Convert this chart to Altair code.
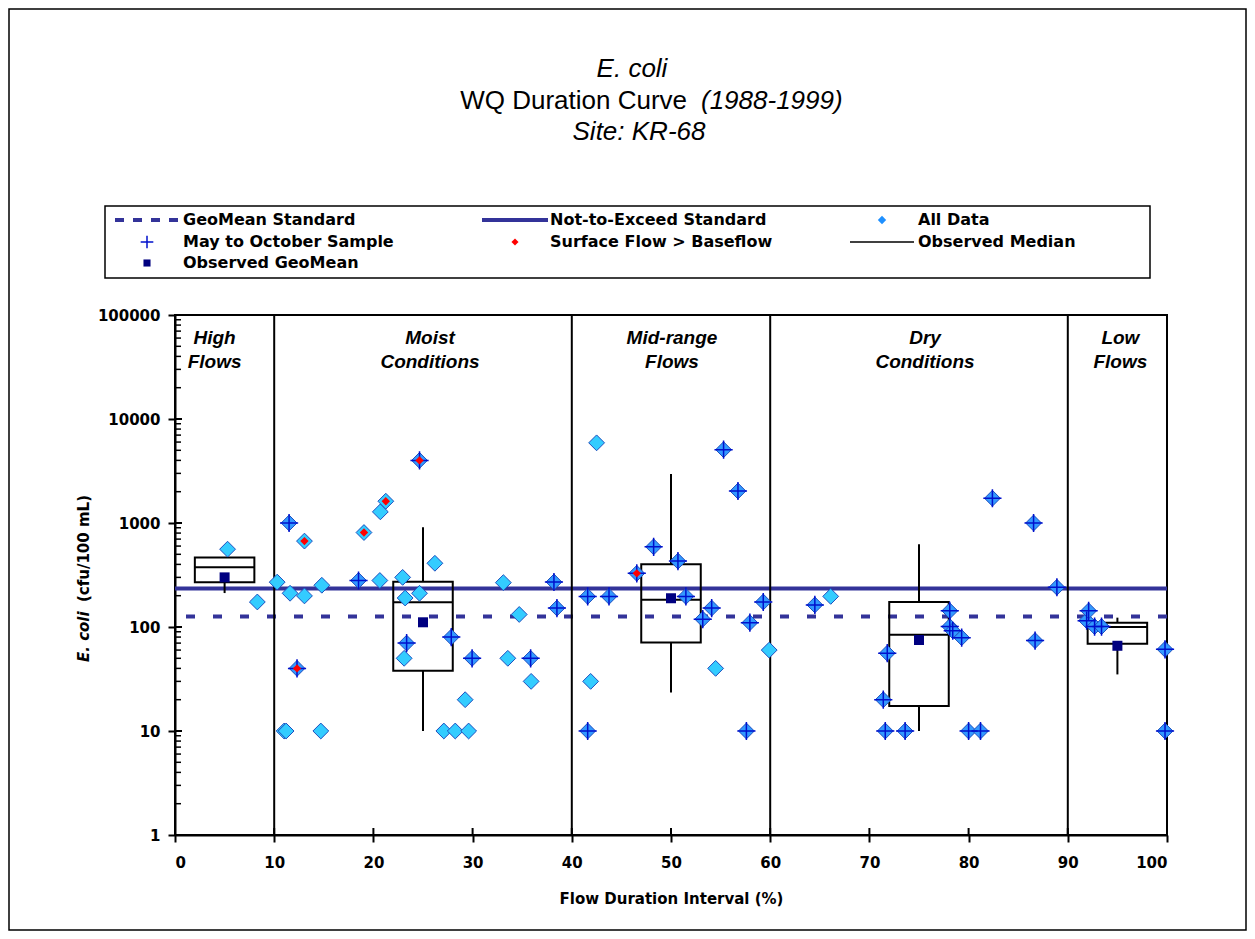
import altair as alt
import pandas as pd

# ---------------- data ----------------
pt_x = [5.3, 8.3, 10.3, 11.0, 11.2, 11.5, 11.6, 12.3, 13.05, 13.05, 14.7, 14.8, 18.5, 19.05,
        20.65, 20.7, 21.25, 22.95, 23.1, 23.2, 23.35, 24.65, 24.65, 26.2, 27.1, 27.85, 28.25,
        29.25, 29.6, 29.95, 33.1, 33.55, 34.7, 35.85, 35.9, 38.2, 38.5,
        41.6, 41.6, 41.9, 42.5, 43.75, 46.55, 48.25, 50.7, 51.5, 53.2, 54.1, 54.5, 55.3, 56.75,
        57.6, 57.95, 59.3, 59.9,
        64.5, 66.1, 71.4, 71.6, 71.8, 73.6, 78.1, 78.1, 78.4, 79.3, 80.0, 81.2, 82.4, 86.55,
        86.7, 88.9,
        91.9, 92.1, 92.7, 93.4, 99.8, 99.8]
pt_val = [560, 174, 270, 10, 10, 1000, 211, 40, 670, 199, 10, 252, 280, 810,
          280, 1280, 1620, 300, 50, 190, 70, 4000, 211, 410, 10, 80, 10,
          20, 10, 50, 267, 50, 132, 50, 30, 271, 152,
          197, 10, 30, 5900, 197, 328, 590, 430, 197, 119, 152, 40, 5070, 2030,
          10, 110, 174, 60,
          163, 197, 20, 10, 56, 10, 143, 101, 92, 79, 10, 10, 1730, 1000,
          74, 241,
          115, 143, 101, 101, 61, 10]
pt_mayoct = [0, 0, 0, 0, 0, 1, 0, 1, 0, 0, 0, 0, 1, 0,
             0, 0, 0, 0, 0, 0, 1, 1, 0, 0, 0, 1, 0,
             0, 0, 1, 0, 0, 0, 1, 0, 1, 1,
             1, 1, 0, 0, 1, 1, 1, 1, 1, 1, 1, 0, 1, 1,
             1, 1, 1, 0,
             1, 0, 1, 1, 1, 1, 1, 1, 1, 1, 1, 1, 1, 1,
             1, 1,
             1, 1, 1, 1, 1, 1]
pt_surface = [0, 0, 0, 0, 0, 0, 0, 1, 1, 0, 0, 0, 0, 1,
              0, 0, 1, 0, 0, 0, 0, 1, 0, 0, 0, 0, 0,
              0, 0, 0, 0, 0, 0, 0, 0, 0, 0,
              0, 0, 0, 0, 0, 1, 0, 0, 0, 0, 0, 0, 0, 0,
              0, 0, 0, 0,
              0, 0, 0, 0, 0, 0, 0, 0, 0, 0, 0, 0, 0, 0,
              0, 0,
              0, 0, 0, 0, 0, 0]

zone_bounds = [10, 40, 60, 90]
zone_mid = [5, 25, 50, 75, 95]
zone_line1 = ["High", "Moist", "Mid-range", "Dry", "Low"]
zone_line2 = ["Flows", "Conditions", "Flows", "Conditions", "Flows"]

box_center = [5, 25, 50, 75, 95]
box_min = [212, 10, 23.4, 10, 35]
box_q1 = [269, 38, 71, 17.4, 69]
box_med = [375, 173, 183, 84, 100]
box_q3 = [466, 273, 401, 174, 110]
box_max = [466, 910, 2960, 624, 123]
box_geomean = [300, 111, 189, 75, 66]

geomean_standard = 126
nte_standard = 235

x_ticks = [0, 10, 20, 30, 40, 50, 60, 70, 80, 90, 100]
y_ticks = [1, 10, 100, 1000, 10000, 100000]

# ---------------- styles ----------------
BOLD_FONT = "DejaVu Sans"
TITLE_FONT = "Liberation Sans"
LINE_BLUE = "#333399"
HALF_W = 3.0
LABEL_DX = [-10, 7, 1, 6, 3]   # pixel nudges of the zone captions

pts = pd.DataFrame({"x": pt_x, "v": pt_val, "mo": pt_mayoct, "sf": pt_surface})
pts["kind"] = pts["mo"].map({0: "plain", 1: "may"})
boxes = pd.DataFrame({"c": box_center, "lo": box_min, "q1": box_q1, "med": box_med,
                      "q3": box_q3, "hi": box_max, "gm": box_geomean})
boxes["x1"] = boxes["c"] - HALF_W
boxes["x2"] = boxes["c"] + HALF_W
zones = pd.DataFrame({"b": zone_bounds})
minor = pd.DataFrame({"v": [m * d for d in [1, 10, 100, 1000, 10000] for m in range(2, 10)]})
majors_y = pd.DataFrame({"v": y_ticks})
majors_x = pd.DataFrame({"x": x_ticks})
stds = pd.DataFrame({"v": [geomean_standard, nte_standard], "s": ["geo", "nte"]})

xscale = alt.Scale(domain=[0, 100], nice=False, zero=False)
yscale = alt.Scale(type="log", domain=[1, 100000], nice=False)
xaxis = alt.Axis(values=x_ticks, format="d", title="Flow Duration Interval (%)",
                 labelFont=BOLD_FONT, labelFontSize=15, labelFontWeight="bold",
                 labelColor="black", labelPadding=13, tickSize=7, tickWidth=2,
                 tickColor="black", domainColor="black", domainWidth=2, grid=False,
                 titleFont=BOLD_FONT, titleFontSize=15, titleFontWeight="bold",
                 titleColor="black", titlePadding=21)
yaxis = alt.Axis(values=y_ticks, format="d", title=None,
                 labelFont=BOLD_FONT, labelFontSize=15, labelFontWeight="bold",
                 labelColor="black", labelPadding=8, tickSize=7, tickWidth=2,
                 tickColor="black", domainColor="black", domainWidth=2, grid=False)


def X(f):
    return alt.X(f, type="quantitative", scale=xscale, axis=xaxis)


def Y(f):
    return alt.Y(f, type="quantitative", scale=yscale, axis=yaxis)


one = pd.DataFrame({"a": [0]})

layers = []

# standards
layers.append(alt.Chart(stds).transform_filter("datum.s == 'nte'").mark_rule(
    color=LINE_BLUE, strokeWidth=4).encode(y=Y("v")))
layers.append(alt.Chart(stds).transform_filter("datum.s == 'geo'").mark_rule(
    color=LINE_BLUE, strokeWidth=4, strokeDash=[9, 18]).encode(y=Y("v")))

# zone boundaries
layers.append(alt.Chart(zones).mark_rule(color="black", strokeWidth=2).encode(x=X("b")))

# inward ticks
layers.append(alt.Chart(minor).mark_rule(color="black", strokeWidth=1.5).encode(
    y=Y("v"), x=alt.value(0), x2=alt.value(6)))
layers.append(alt.Chart(majors_y).mark_rule(color="black", strokeWidth=2).encode(
    y=Y("v"), x=alt.value(0), x2=alt.value(7)))
layers.append(alt.Chart(majors_x).mark_rule(color="black", strokeWidth=2).encode(
    x=X("x"), y=alt.value(520), y2=alt.value(513)))

# boxes
layers.append(alt.Chart(boxes).mark_rule(color="black", strokeWidth=2).encode(
    x=X("c"), y=Y("lo"), y2=alt.Y2("q1")))
layers.append(alt.Chart(boxes).mark_rule(color="black", strokeWidth=2).encode(
    x=X("c"), y=Y("q3"), y2=alt.Y2("hi")))
layers.append(alt.Chart(boxes).mark_rect(fillOpacity=0, stroke="black", strokeWidth=2).encode(
    x=X("x1"), x2=alt.X2("x2"), y=Y("q1"), y2=alt.Y2("q3")))
layers.append(alt.Chart(boxes).mark_rule(color="black", strokeWidth=2).encode(
    x=X("x1"), x2=alt.X2("x2"), y=Y("med")))

# data points
layers.append(alt.Chart(pts).mark_point(shape="diamond", filled=True, size=250,
                                         stroke="#1F4FBF", strokeWidth=1, opacity=1).encode(
    x=X("x"), y=Y("v"),
    fill=alt.Fill("kind:N", scale=alt.Scale(domain=["plain", "may"],
                                            range=["#33CCFF", "#3399FF"]), legend=None)))
layers.append(alt.Chart(pts).transform_filter("datum.mo == 1").mark_point(
    shape="M-1,0L1,0M0,-1L0,1", size=330, filled=False, stroke="#0010CC", strokeWidth=1.5,
    opacity=1).encode(x=X("x"), y=Y("v")))
layers.append(alt.Chart(pts).transform_filter("datum.sf == 1").mark_point(
    shape="diamond", filled=True, size=70, color="#FF0000", opacity=1).encode(
    x=X("x"), y=Y("v")))
layers.append(alt.Chart(boxes).mark_point(shape="square", filled=True, size=100,
                                           color="#000080", opacity=1).encode(
    x=X("c"), y=Y("gm")))

# zone captions
for i in range(len(zone_mid)):
    lab = pd.DataFrame({"x": [zone_mid[i]], "l1": [zone_line1[i]], "l2": [zone_line2[i]]})
    for fld, yy in (("l1", 23), ("l2", 47)):
        layers.append(alt.Chart(lab).mark_text(
            font=TITLE_FONT, fontSize=19, fontStyle="italic", fontWeight="bold",
            color="black", baseline="middle", dx=LABEL_DX[i]).encode(
            x=X("x"), y=alt.value(yy), text=f"{fld}:N"))

# ---- decorations in pixel space (plot origin at page 175,315) ----
OX, OY = 175, 315


def txt(s, px, py, size, style="normal", weight="normal", align="center", font=TITLE_FONT,
        angle=0):
    return alt.Chart(one).mark_text(text=s, font=font, fontSize=size, fontStyle=style,
                                    fontWeight=weight, align=align, baseline="middle",
                                    color="black", angle=angle).encode(
        x=alt.value(px - OX), y=alt.value(py - OY))


# title
layers.append(txt("E. coli", 632, 69, 26, style="italic"))
layers.append(txt("WQ Duration Curve", 687, 101, 26, align="right"))
layers.append(txt("(1988-1999)", 701, 101, 26, style="italic", align="left"))
layers.append(txt("Site: KR-68", 639, 132, 26, style="italic"))

# y axis title (rotated)
layers.append(txt("E. coli", 84, 662, 15, style="italic", weight="bold", align="left",
                  font=BOLD_FONT, angle=270))
layers.append(txt("(cfu/100 mL)", 84, 602, 15, weight="bold", align="left",
                  font=BOLD_FONT, angle=270))

# legend box
LB_L, LB_R, LB_T, LB_B = 105, 1150, 206, 278
layers.append(alt.Chart(one).mark_rect(fillOpacity=0, stroke="black", strokeWidth=1.5).encode(
    x=alt.value(LB_L - OX), x2=alt.value(LB_R - OX), y=alt.value(LB_T - OY),
    y2=alt.value(LB_B - OY)))

R1, R2, R3 = 220, 242, 263
cols = [(115, 179, 183), (482, 548, 550), (850, 914, 918)]


def lrule(c, row, color, width, dash=None):
    kw = dict(color=color, strokeWidth=width)
    if dash:
        kw["strokeDash"] = dash
    return alt.Chart(one).mark_rule(**kw).encode(
        x=alt.value(cols[c][0] - OX), x2=alt.value(cols[c][1] - OX), y=alt.value(row - OY))


def lsym(c, row, shape, size, color, filled=True, width=1.5):
    cx = (cols[c][0] + cols[c][1]) / 2
    if filled:
        m = alt.Chart(one).mark_point(shape=shape, size=size, filled=True, color=color,
                                      opacity=1)
    else:
        m = alt.Chart(one).mark_point(shape=shape, size=size, filled=False, stroke=color,
                                      strokeWidth=width, opacity=1)
    return m.encode(x=alt.value(cx - OX), y=alt.value(row - OY))


def ltxt(c, row, s):
    return txt(s, cols[c][2], row, 16, weight="bold", align="left", font=BOLD_FONT)


layers.append(lrule(0, R1, LINE_BLUE, 4, [9, 9]))
layers.append(ltxt(0, R1, "GeoMean Standard"))
layers.append(lsym(0, R2, "M-1,0L1,0M0,-1L0,1", 160, "#0010CC", filled=False))
layers.append(ltxt(0, R2, "May to October Sample"))
layers.append(lsym(0, R3, "square", 50, "#000080"))
layers.append(ltxt(0, R3, "Observed GeoMean"))
layers.append(lrule(1, R1, LINE_BLUE, 4))
layers.append(ltxt(1, R1, "Not-to-Exceed Standard"))
layers.append(lsym(1, R2, "diamond", 50, "#FF0000"))
layers.append(ltxt(1, R2, "Surface Flow > Baseflow"))
layers.append(lsym(2, R1, "diamond", 70, "#1E90FF"))
layers.append(ltxt(2, R1, "All Data"))
layers.append(lrule(2, R2, "black", 1.5))
layers.append(ltxt(2, R2, "Observed Median"))

# outer frame
layers.append(alt.Chart(one).mark_rect(fillOpacity=0, stroke="black", strokeWidth=1.5).encode(
    x=alt.value(9 - OX), x2=alt.value(1246 - OX), y=alt.value(9 - OY),
    y2=alt.value(930 - OY)))

chart = alt.layer(*layers).properties(
    width=992, height=520, autosize="none",
    padding={"left": OX - 8, "top": OY - 8, "right": 1239 - (OX - 8) - 992,
             "bottom": 923 - (OY - 8) - 520},
    background="white",
).configure_view(stroke="black", strokeWidth=2)

chart.save("out.html", embed_options={"renderer": "svg", "actions": False})
